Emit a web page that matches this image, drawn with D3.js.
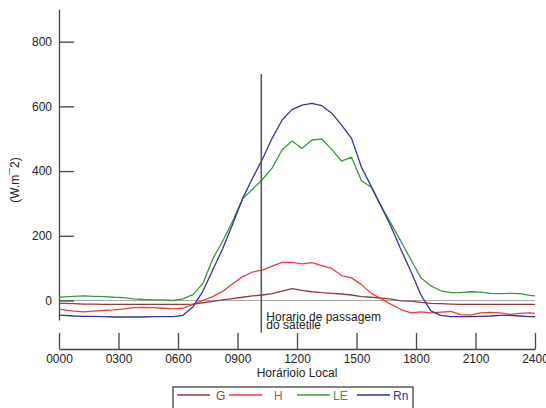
<!DOCTYPE html>
<html>
<head>
<meta charset="utf-8">
<script src="https://cdn.jsdelivr.net/npm/d3@7"></script>
<style>
  body { margin: 0; background: #fff; }
  svg { display: block; font-family: "Liberation Sans", Arial, sans-serif; }
</style>
</head>
<body>
<svg id="chart" width="546" height="408"></svg>
<script>
// half-hourly values (W.m-2), hour of day
const hours = [0, 0.25, 0.75, 1.25, 1.75, 2.25, 2.75, 3.25, 3.75, 4.25, 4.75, 5.25, 5.75,
  6.25, 6.75, 7.25, 7.75, 8.25, 8.75, 9.25, 9.75, 10.25, 10.75, 11.25, 11.75,
  12.25, 12.75, 13.25, 13.75, 14.25, 14.75, 15.25, 15.75, 16.25, 16.75, 17.25, 17.75,
  18.25, 18.75, 19.25, 19.75, 20.25, 20.75, 21.25, 21.75, 22.25, 22.75, 23.25, 23.75, 24];

const G = [-9, -9, -10, -11, -11, -12, -12, -12, -12, -12, -12, -12, -12,
  -12, -11, -7, -3, 2, 6, 10, 14, 17, 21, 29, 37,
  31, 27, 24, 22, 20, 17, 12, 10, 7, 4, -1, -2,
  -6, -9, -10, -11, -12, -12, -12, -12, -12, -12, -12, -12, -12];

const H = [-27, -29, -33, -35, -33, -31, -29, -26, -22, -21, -22, -24, -26,
  -24, -12, 0, 12, 28, 52, 73, 88, 94, 106, 118, 118,
  113, 117, 108, 99, 77, 70, 49, 22, 5, -12, -28, -38,
  -35, -38, -36, -34, -44, -45, -38, -37, -38, -43, -40, -38, -40];

const LE = [10, 11, 13, 14, 13, 12, 10, 9, 5, 3, 2, 2, 0,
  5, 18, 52, 128, 183, 245, 314, 343, 374, 410, 466, 493,
  470, 496, 499, 467, 431, 443, 370, 350, 290, 237, 182, 125,
  70, 45, 30, 24, 24, 27, 26, 22, 21, 22, 21, 16, 14];

const Rn = [-45, -46, -48, -49, -49, -50, -51, -51, -51, -51, -50, -50, -50,
  -46, -20, 28, 94, 160, 235, 314, 377, 436, 502, 558, 590,
  604, 609, 602, 579, 542, 501, 412, 352, 290, 227, 156, 89,
  17, -32, -46, -50, -50, -50, -49, -48, -46, -46, -48, -50, -50];

const seriesNames = ["G", "H", "LE", "Rn"];
const seriesColors = ["#8e3d3d", "#f03c3c", "#3a9a3a", "#34349a"];
const xTickValues = [0, 3, 6, 9, 12, 15, 18, 21, 24];
const xTickLabels = ["0000", "0300", "0600", "0900", "1200", "1500", "1800", "2100", "2400"];
const yTickValues = [0, 200, 400, 600, 800];
const satelliteHour = 10.2;

const svg = d3.select("#chart");

const x = d3.scaleLinear().domain([0, 24]).range([59, 535]);
const y = d3.scaleLinear().domain([-60, 900]).range([319.9, 9.3]);

// zero line
svg.append("line")
  .attr("x1", x(0)).attr("x2", x(24))
  .attr("y1", y(0)).attr("y2", y(0))
  .attr("stroke", "#a8a8a8").attr("stroke-width", 1.2);

// y axis, ticks pointing inward
const yAxis = svg.append("g")
  .attr("transform", `translate(${x(0)},0)`)
  .call(d3.axisLeft(y).tickValues(yTickValues).tickSizeInner(-15).tickSizeOuter(0).tickPadding(7));

// x axis, set below the plot, ticks pointing up
const xAxis = svg.append("g")
  .attr("transform", "translate(0,349)")
  .call(d3.axisBottom(x).tickValues(xTickValues)
    .tickFormat((d, i) => xTickLabels[i])
    .tickSizeInner(-16).tickSizeOuter(0).tickPadding(5));

[yAxis, xAxis].forEach(ax => {
  ax.select(".domain").attr("stroke", "#444").attr("stroke-width", 1.3);
  ax.selectAll(".tick line").attr("stroke", "#444").attr("stroke-width", 1.3);
  ax.selectAll(".tick text")
    .attr("fill", "#222")
    .style("font-size", "12px")
    .style("font-family", "'Liberation Sans', Arial, sans-serif");
});

// curves
const allSeries = [G, H, LE, Rn];
const line = d3.line()
  .x((d, i) => x(hours[i]))
  .y(d => y(d));

svg.append("g")
  .selectAll("path")
  .data(allSeries)
  .enter()
  .append("path")
  .attr("d", d => line(d))
  .attr("fill", "none")
  .attr("stroke", (d, i) => seriesColors[i])
  .attr("stroke-width", 1.3)
  .attr("stroke-linejoin", "round");

// satellite overpass marker
svg.append("line")
  .attr("x1", x(satelliteHour)).attr("x2", x(satelliteHour))
  .attr("y1", y(700)).attr("y2", y(-100))
  .attr("stroke", "#555").attr("stroke-width", 1.5);

svg.append("text")
  .attr("x", x(satelliteHour) + 5).attr("y", 321)
  .attr("fill", "#222").style("font-size", "12px")
  .text("Horario de passagem");
svg.append("text")
  .attr("x", x(satelliteHour) + 5).attr("y", 329)
  .attr("fill", "#222").style("font-size", "12px")
  .text("do satetile");

// axis titles
svg.append("text")
  .attr("transform", "translate(15,180) rotate(-90)")
  .attr("text-anchor", "middle")
  .attr("dominant-baseline", "central")
  .attr("fill", "#222")
  .style("font-size", "12px")
  .text("(W.m¯2)");

svg.append("text")
  .attr("x", 297).attr("y", 377)
  .attr("text-anchor", "middle")
  .attr("fill", "#222")
  .style("font-size", "12px")
  .text("Horárioio Local");

// legend
const legend = svg.append("g");
legend.append("rect")
  .attr("x", 173).attr("y", 387)
  .attr("width", 240).attr("height", 30)
  .attr("fill", "none").attr("stroke", "#333").attr("stroke-width", 1.2);

const legendLineX = [177, 229, 297, 357];
const legendTextX = [216, 274, 333, 393];

const items = legend.selectAll("g.item")
  .data(seriesNames)
  .enter()
  .append("g")
  .attr("class", "item");

items.append("line")
  .attr("x1", (d, i) => legendLineX[i]).attr("x2", (d, i) => legendLineX[i] + 33)
  .attr("y1", 395).attr("y2", 395)
  .attr("stroke", (d, i) => seriesColors[i])
  .attr("stroke-width", 1.3);

items.append("text")
  .attr("x", (d, i) => legendTextX[i]).attr("y", 399.5)
  .attr("fill", (d, i) => seriesColors[i])
  .style("font-size", "12px")
  .text(d => d);
</script>
</body>
</html>
